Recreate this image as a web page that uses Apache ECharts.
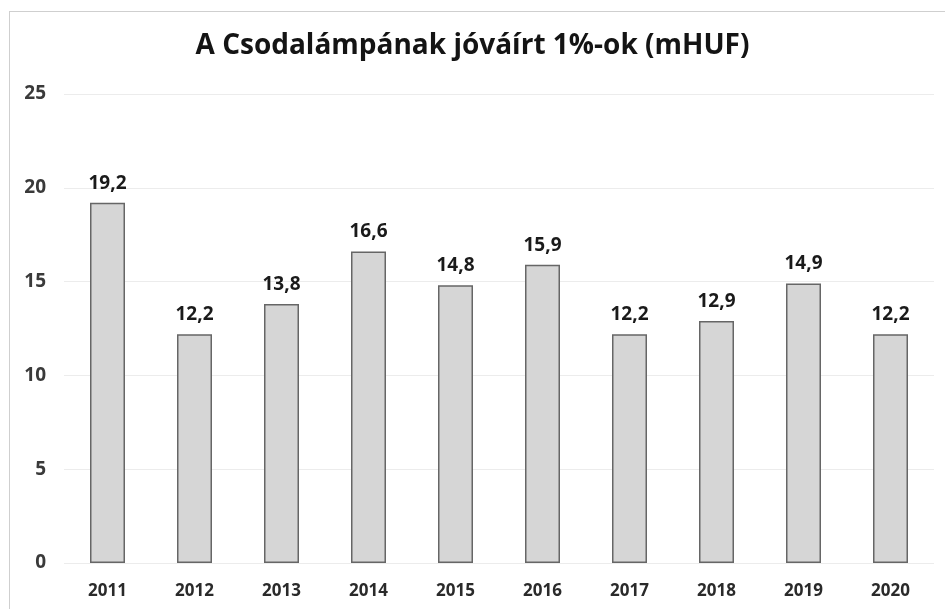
<!DOCTYPE html>
<html>
<head>
<meta charset="utf-8">
<script src="https://cdn.jsdelivr.net/npm/echarts@6/dist/echarts.min.js"></script>
<style>
html,body{margin:0;padding:0;background:#fff;}
#frame{position:absolute;left:9px;top:11px;width:945px;height:610px;border:1px solid #cfcfcf;box-sizing:border-box;}
#chart{position:absolute;left:0;top:0;width:945px;height:609px;}
</style>
</head>
<body>
<div id="frame"></div>
<div id="chart"></div>
<script>
const titleText = 'A Csodalámpának jóváírt 1%-ok (mHUF)';
const years = ['2011','2012','2013','2014','2015','2016','2017','2018','2019','2020'];
const values = [19.2, 12.2, 13.8, 16.6, 14.8, 15.9, 12.2, 12.9, 14.9, 12.2];
const yTicks = [0, 5, 10, 15, 20, 25];

const chart = echarts.init(document.getElementById('chart'), null, {renderer:'canvas'});
const fontFam = '"Open Sans", "Liberation Sans", sans-serif';
chart.setOption({
  backgroundColor: 'transparent',
  animation: false,
  title: {
    text: titleText,
    left: 'center',
    top: 32,
    padding: [0, 0, 0, 28],
    textStyle: {fontFamily: fontFam, fontSize: 28, fontWeight: 'bold', color: '#141414'}
  },
  grid: {left: 64, right: 11, top: 94, bottom: 46, containLabel: false},
  xAxis: {
    type: 'category',
    data: years,
    axisLine: {show: false},
    axisTick: {show: false},
    axisLabel: {fontFamily: fontFam, fontSize: 17, fontWeight: 'bold', color: '#2a2a2a', margin: 20}
  },
  yAxis: {
    type: 'value',
    min: yTicks[0],
    max: yTicks[yTicks.length - 1],
    interval: 5,
    axisLine: {show: false},
    axisTick: {show: false},
    splitLine: {lineStyle: {color: '#ececec', width: 1}},
    axisLabel: {fontFamily: fontFam, fontSize: 19, fontWeight: 'bold', color: '#3a3a3a', margin: 18}
  },
  series: [{
    type: 'bar',
    data: values,
    barWidth: 35,
    itemStyle: {color: '#d6d6d6', borderColor: '#666', borderWidth: 1.5},
    label: {
      show: true,
      position: 'top',
      distance: 10,
      formatter: p => String(p.value.toFixed(1)).replace('.', ','),
      fontFamily: fontFam, fontSize: 19, fontWeight: 'bold', color: '#1a1a1a'
    }
  }]
});
</script>
</body>
</html>
